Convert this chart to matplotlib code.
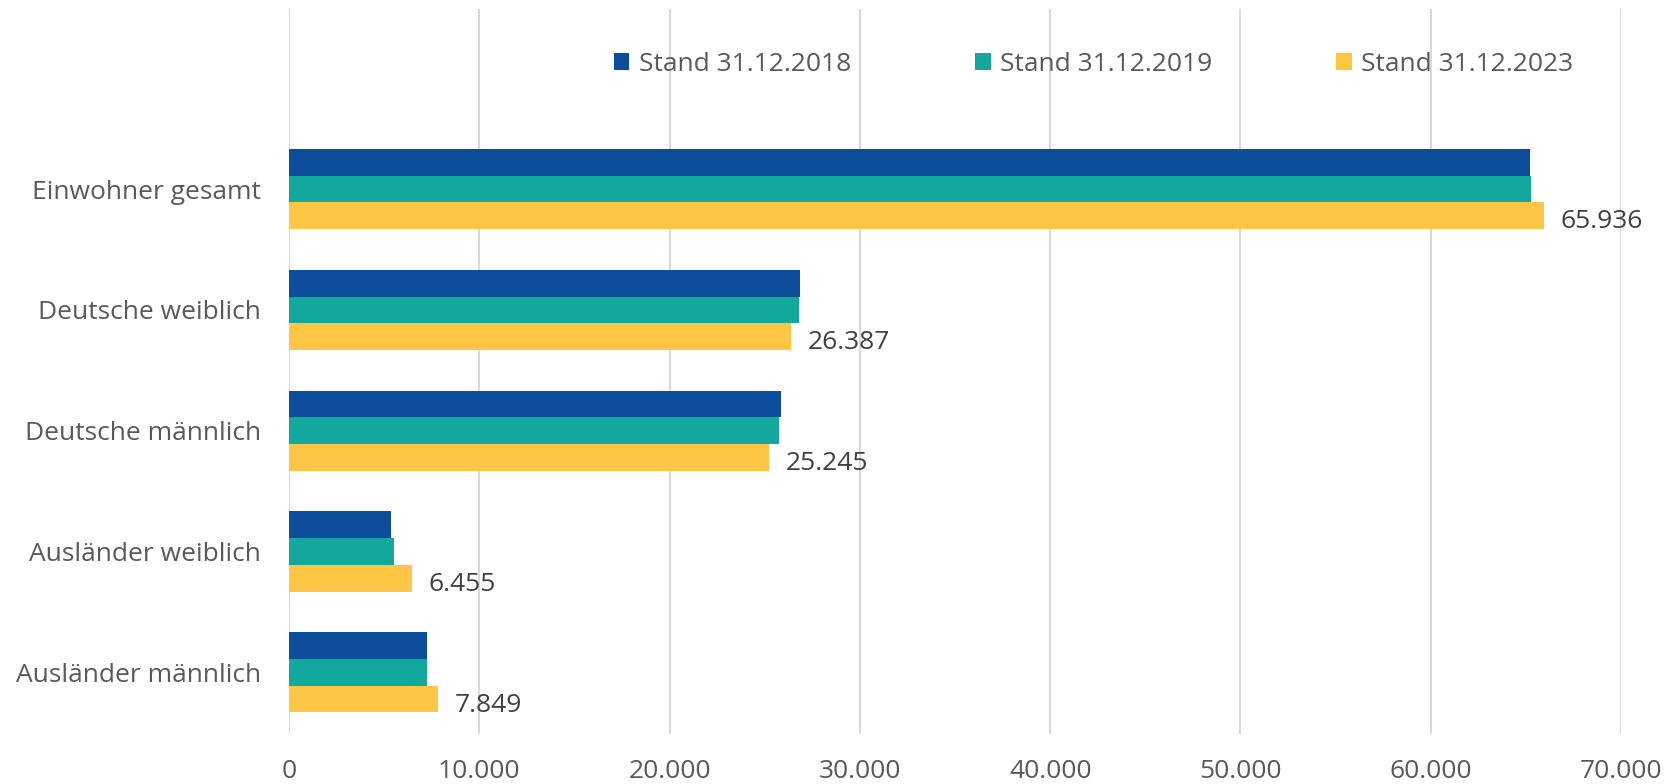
import numpy as np
import matplotlib.pyplot as plt

plt.rcParams['font.family'] = ['Open Sans', 'DejaVu Sans']

categories = ["Einwohner gesamt", "Deutsche weiblich", "Deutsche männlich",
              "Ausländer weiblich", "Ausländer männlich"]
series_names = ["Stand 31.12.2018", "Stand 31.12.2019", "Stand 31.12.2023"]
values_2018 = [65200, 26850, 25850, 5340, 7230]
values_2019 = [65260, 26800, 25750, 5500, 7230]
values_2023 = [65936, 26387, 25245, 6455, 7849]
colors = ["#0B4C9B", "#13A89E", "#FFC645"]
xticks = [0, 10000, 20000, 30000, 40000, 50000, 60000, 70000]


def de_fmt(v):
    return f"{v:,}".replace(",", ".")


fig = plt.figure(figsize=(16.8, 7.84), dpi=100)
ax = fig.add_axes([289 / 1680, 1 - 734 / 784, (1621 - 289) / 1680, 725 / 784])

y = np.arange(len(categories))
h = 0.221
series = [values_2018, values_2019, values_2023]
for i, (vals, name, c) in enumerate(zip(series, series_names, colors)):
    ax.barh(y + (i - 1) * h, vals, height=h, color=c, label=name, zorder=3)

# value labels only for 2023
for yi, v in zip(y, values_2023):
    ax.annotate(de_fmt(v), (v, yi + h), xytext=(12, -4.5), textcoords='offset points',
                va='center', ha='left', fontsize=19, color='#404040', zorder=4)

ax.set_xlim(0, 70000)
ax.set_ylim(len(categories) - 0.49, -1.49)
ax.set_yticks(y)
ax.set_yticklabels(categories, fontsize=19, color='#595959')
ax.set_xticks(xticks)
ax.set_xticklabels([de_fmt(t) for t in xticks], fontsize=19, color='#595959')
ax.tick_params(axis='both', length=0)
ax.tick_params(axis='y', pad=20)
ax.tick_params(axis='x', pad=18)
ax.grid(axis='x', color='#D9D9D9', linewidth=1.5, zorder=0)
for s in ax.spines.values():
    s.set_visible(False)

ax.legend(loc='center', bbox_to_anchor=(0.604, 0.924), ncol=3, frameon=False,
          fontsize=19, handlelength=0.6, handleheight=0.6, handletextpad=0.35,
          columnspacing=4.7, labelcolor='#595959')

fig.savefig("out.png", dpi=100)
